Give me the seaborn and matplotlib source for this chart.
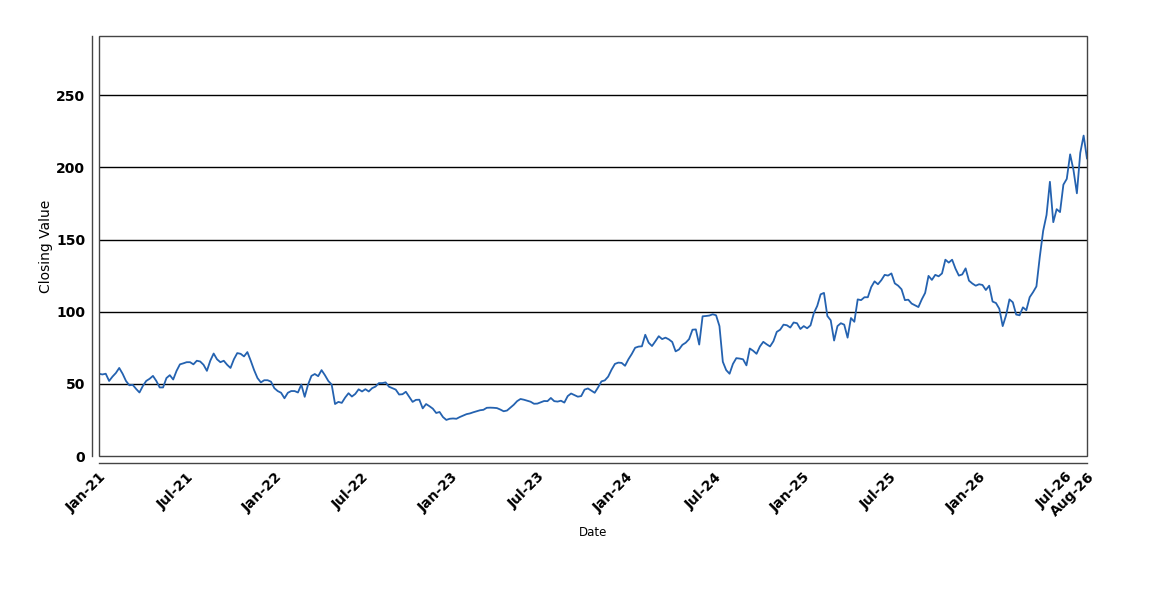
import numpy as np
import pandas as pd
import matplotlib
matplotlib.use('Agg')
import matplotlib.pyplot as plt
import matplotlib.dates as mdates
from matplotlib.patches import Rectangle
import seaborn as sns

# weekly closing values (one list per ~year)
close_2021 = [57, 56.5, 57, 52, 55, 57.5, 61, 57, 52, 49, 49.3, 46.5, 44, 48.5, 52, 53.5,
              55.5, 52, 47.5, 47.5, 54, 56, 53, 59, 63.5, 64.2, 65, 65, 63.5, 66, 65.5, 63.2,
              59, 66, 71, 67, 65, 66, 63.2, 61, 67, 71.3, 70.8, 69, 72, 66, 59.5, 54, 51,
              52.5, 52.5, 51.5]
close_2022 = [47, 45, 43.8, 40, 43.8, 45, 45, 44, 49.5, 41, 49.5, 55.5, 56.8, 55.3, 59.5, 56,
              52, 49.5, 36, 37.5, 36.8, 40.5, 43.5, 41.2, 43, 46.2, 44.7, 46.3, 44.7, 47, 48.1,
              50.5, 50.5, 51, 48, 47, 46, 42.6, 42.8, 44.5, 41, 37.5, 38.9, 39, 33, 36, 34.5,
              32.8, 29.8, 30.5, 27, 25]
close_2023 = [25.8, 26, 25.8, 27, 28, 29, 29.5, 30.3, 31, 31.7, 32, 33.4, 33.5, 33.4, 33.2,
              32.2, 31, 31.5, 33.5, 35.5, 38, 39.5, 39, 38.3, 37.6, 36.2, 36.3, 37.2, 38.1, 38,
              40.2, 38, 37.7, 38.3, 37, 41.5, 43.3, 42.2, 41.1, 41.5, 46, 46.8, 45.3, 43.8,
              47.5, 51.7, 52.4, 55, 59.8, 63.8, 64.7, 64.5]
close_2024 = [62.5, 67, 70.7, 75, 75.8, 76, 84, 78.5, 76.2, 79.5, 83, 81, 82, 80.8, 79, 72.5,
              73.8, 77, 78.5, 81, 87.5, 87.7, 77.2, 96.8, 97, 97.3, 98.2, 97.5, 90, 65.3, 59.5,
              57, 63.8, 67.8, 67.5, 67, 62.8, 74.5, 72.9, 70.8, 75.9, 79.1, 77.4, 75.9, 79.5,
              86, 87.5, 91, 90.6, 89, 92.5, 92]
close_2025 = [88, 90, 88.5, 90.5, 99, 104, 112, 113, 97, 94, 80, 90, 92, 91, 82, 95.6, 93,
              108.5, 108, 110, 110, 117, 121, 119, 121.8, 125.5, 125, 126.5, 119.6, 118, 115.5,
              108, 108.3, 105.6, 104.4, 103.2, 108.5, 113, 124.8, 122, 125.5, 124.5, 126.5,
              136, 134, 136, 129.8, 125, 125.8, 130, 121.5, 119.5]
close_2026 = [118, 119, 118.5, 115, 118, 107, 106, 102, 90, 97.5, 108.5, 106.5, 98, 97.5,
              103, 101, 110, 113.5, 117.5, 138, 156, 167, 190, 162, 171, 169, 188, 192, 209,
              198, 182, 210, 222, 206]

closing = close_2021 + close_2022 + close_2023 + close_2024 + close_2025 + close_2026
dates = pd.date_range('2021-01-01', periods=len(closing), freq='7D')
df = pd.DataFrame({'Date': dates, 'Closing Value': closing})

y_ticks = [0, 50, 100, 150, 200, 250]

sns.set_style('white')
plt.rcParams['font.family'] = ['DejaVu Sans']

fig = plt.figure(figsize=(11.5, 6), dpi=100)
ax = fig.add_axes([99 / 1150, 1 - 456 / 600, (1087 - 99) / 1150, (456 - 36) / 600])

sns.lineplot(data=df, x='Date', y='Closing Value', ax=ax, color='#2462b0', linewidth=1.3)

ax.set_xlim(dates[0], dates[-1])
ax.set_ylim(0, 291)
ax.set_yticks(y_ticks)
for v in y_ticks[1:]:
    ax.axhline(v, color='black', linewidth=1, zorder=1)

# x ticks: every Jan/Jul plus the last date
x_ticks = list(pd.date_range('2021-01-01', '2026-07-01', freq='6MS')) + [dates[-1]]
ax.set_xticks(x_ticks)
ax.xaxis.set_major_formatter(mdates.DateFormatter('%b-%y'))

# plot frame + offset axis lines
for side in ['top', 'right']:
    ax.spines[side].set_visible(False)
for side in ['left', 'bottom']:
    ax.spines[side].set_position(('outward', 5))
    ax.spines[side].set_color('#444444')
    ax.spines[side].set_linewidth(1)
ax.add_patch(Rectangle((0, 0), 1, 1, transform=ax.transAxes, fill=False,
                       edgecolor='#444444', linewidth=1, clip_on=False, zorder=5))

ax.tick_params(axis='both', direction='out', length=3, width=1, color='#666666',
               labelsize=10, labelcolor='black', pad=2)
for lbl in ax.get_yticklabels():
    lbl.set_fontweight('bold')
for lbl in ax.get_xticklabels():
    lbl.set_fontweight('bold')
    lbl.set_rotation(45)
    lbl.set_ha('right')
    lbl.set_rotation_mode('anchor')

ax.set_xlabel('Date', fontsize=8.5, labelpad=5, color='black')
ax.set_ylabel('Closing Value', fontsize=10, labelpad=2, color='black')

fig.savefig('out.png', dpi=100)
